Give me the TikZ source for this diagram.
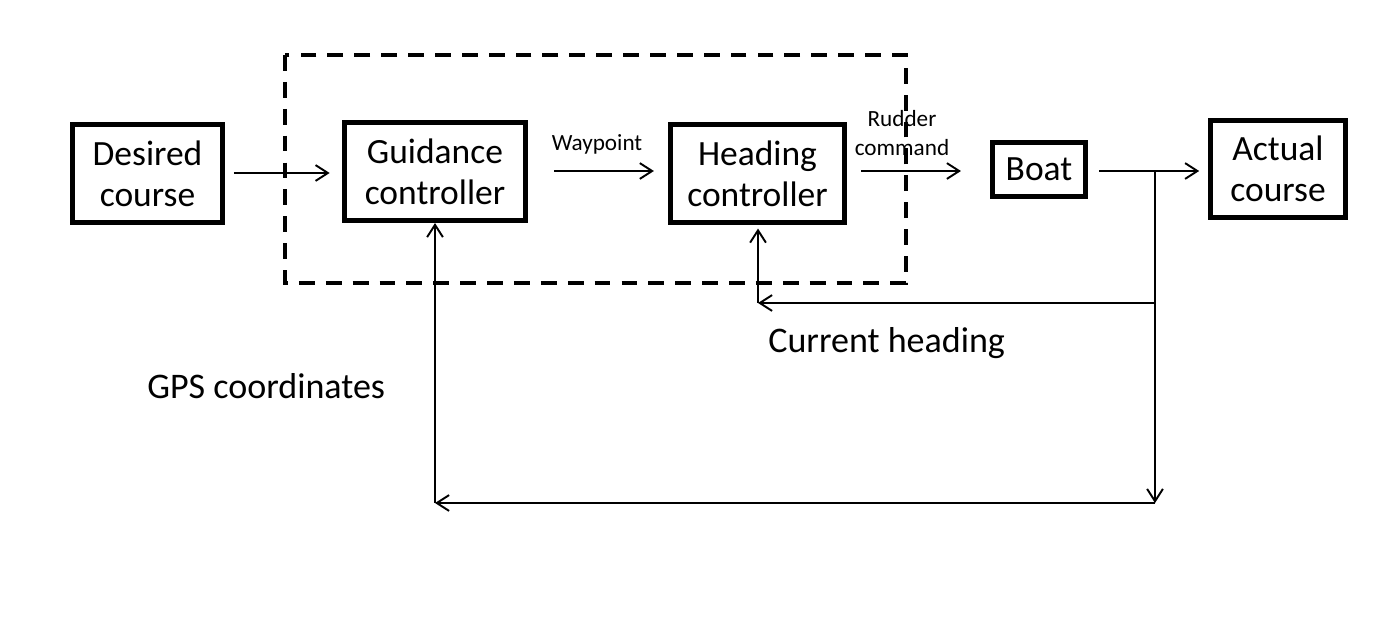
\documentclass[tikz,border=0pt]{standalone}
\usepackage{fontspec}
\setmainfont{Carlito}
\usetikzlibrary{arrows.meta}
\begin{document}
\begin{tikzpicture}[x=0.02cm,y=-0.02cm,
    block/.style={draw, line width=2.9pt, align=center, inner sep=0pt,
      font=\fontsize{20.2}{23.5}\selectfont},
    sig/.style={line width=1.1pt, -{Straight Barb[length=7pt,width=9pt,line width=1.1pt]}},
    small/.style={align=center, inner sep=0pt, font=\fontsize{13.2}{16.5}\selectfont},
    big/.style={inner sep=0pt, anchor=base west, font=\fontsize{20.5}{24}\selectfont}]
      \useasboundingbox (0,0) rectangle (1382,636);
      % controller frame
      \draw[line width=2.8pt, dash pattern=on 9pt off 6.3pt] (285,55) rectangle (906,283);
      % blocks
      \node[block, minimum width=150*0.02cm, minimum height=98*0.02cm] (dc) at (147.5,173.5) {Desired\\course};
      \node[block, minimum width=181*0.02cm, minimum height=98*0.02cm] (gc) at (435,171.5) {Guidance\\controller};
      \node[block, minimum width=174*0.02cm, minimum height=98*0.02cm] (hc) at (757.5,173.5) {Heading\\controller};
      \node[block, minimum width=93*0.02cm, minimum height=54*0.02cm] (bt) at (1039,169.5) {Boat};
      \node[block, minimum width=135*0.02cm, minimum height=97*0.02cm] (ac) at (1278,169) {Actual\\course};
      % forward path
      \draw[sig, shorten <=5pt, shorten >=7pt] (dc.east |- 0,173) -- (gc.west |- 0,173);
      \draw[sig, shorten <=15pt, shorten >=8pt] (gc.east |- 0,171) -- (hc.west |- 0,171);
      \draw[sig, shorten <=8pt, shorten >=16.5pt] (hc.east |- 0,171) -- (bt.west |- 0,171);
      \draw[sig, shorten <=6.5pt, shorten >=5pt] (bt.east |- 0,171) -- (ac.west |- 0,171);
      \node[small] (wp) at (597,144) {Waypoint};
      \node[small] (rc) at (902,133) {Rudder\\command};
      % feedback
      \coordinate (b1) at (1155,171);
      \coordinate (b2) at (1155,303);
      \coordinate (b3) at (1155,503);
      \coordinate (h1) at (758,303);
      \coordinate (g1) at (435,503);
      \draw[sig] (b1) -- (b3);
      \draw[sig] (b3) -- (g1);
      \draw[sig] (g1) -- (gc.south);
      \draw[sig] (b2) -- (h1);
      \draw[sig, shorten >=2pt] (h1) -- (h1 |- hc.south);
      \node[big] (ch) at (768,352) {Current heading};
      \node[big] (gps) at (147,398) {GPS coordinates};
    \end{tikzpicture}
\end{document}
